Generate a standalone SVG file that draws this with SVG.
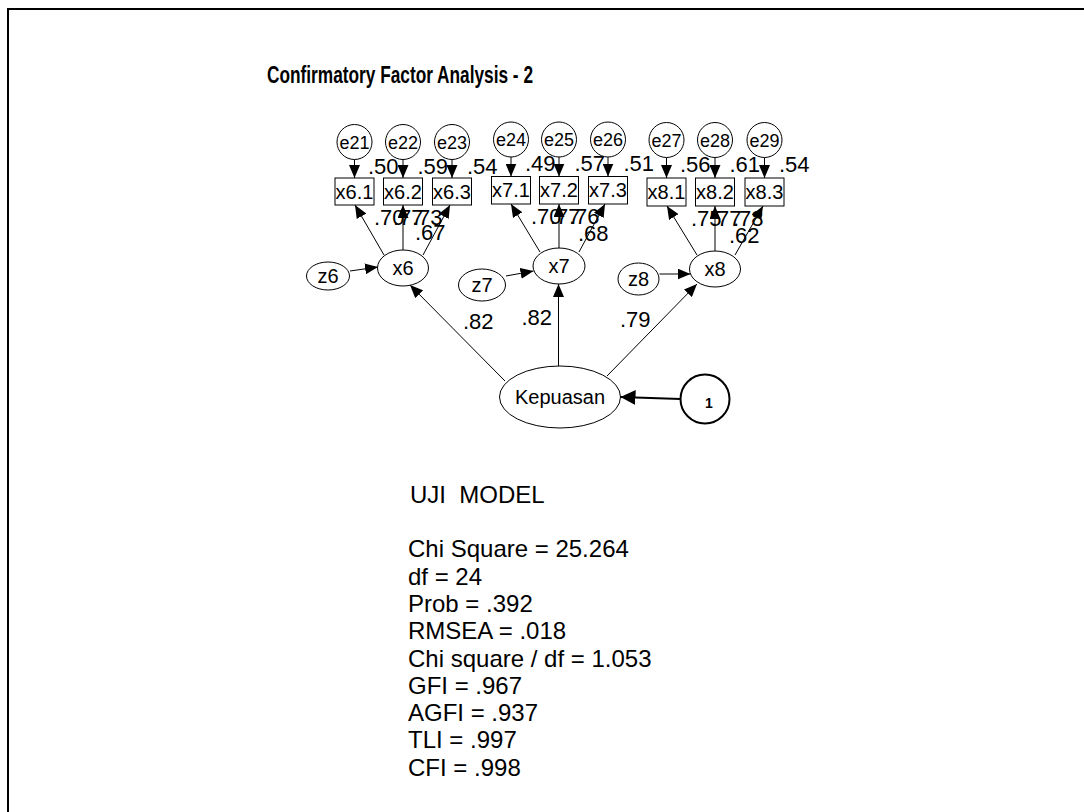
<svg xmlns="http://www.w3.org/2000/svg" width="1084" height="812" viewBox="0 0 1084 812">
<defs>
<style>
text{font-family:"Liberation Sans",Arial,sans-serif;fill:#000}
.n{fill:#fff;stroke:#000;stroke-width:1}
.c{stroke:#000;stroke-width:1;fill:none}
.cb{stroke:#000;stroke-width:2;fill:none}
.t20{font-size:20px;text-anchor:middle}
.t18{font-size:18px;text-anchor:middle}
.lb{font-size:22px}
.st{font-size:24px}
</style>
<marker id="ah" viewBox="0 0 13 11" refX="13" refY="5.5" markerWidth="13" markerHeight="11" markerUnits="userSpaceOnUse" orient="auto"><path d="M0,0L13,5.5L0,11z" fill="#000"/></marker>
<marker id="ahb" viewBox="0 0 15 15" refX="15" refY="7.5" markerWidth="15" markerHeight="15" markerUnits="userSpaceOnUse" orient="auto"><path d="M0,0L15,7.5L0,15z" fill="#000"/></marker>
</defs>
<rect x="0" y="0" width="1084" height="812" fill="#fff"/>
<rect x="8" y="9" width="1090" height="820" fill="none" stroke="#000" stroke-width="2"/>
<text x="400" y="83" font-size="23" font-weight="bold" text-anchor="middle" textLength="266" lengthAdjust="spacingAndGlyphs">Confirmatory Factor Analysis - 2</text>

<g id="connectors">
<line class="c" x1="354.5" y1="159.5" x2="354.5" y2="178" marker-end="url(#ah)"/>
<line class="c" x1="403" y1="159.5" x2="403" y2="178" marker-end="url(#ah)"/>
<line class="c" x1="452" y1="159.5" x2="452" y2="178" marker-end="url(#ah)"/>
<line class="c" x1="511" y1="157" x2="511" y2="176.5" marker-end="url(#ah)"/>
<line class="c" x1="559" y1="157" x2="559" y2="176.5" marker-end="url(#ah)"/>
<line class="c" x1="608" y1="157" x2="608" y2="176.5" marker-end="url(#ah)"/>
<line class="c" x1="666.5" y1="157.5" x2="666.5" y2="178" marker-end="url(#ah)"/>
<line class="c" x1="715" y1="157.5" x2="715" y2="178" marker-end="url(#ah)"/>
<line class="c" x1="764.5" y1="157.5" x2="764.5" y2="178" marker-end="url(#ah)"/>

<line class="c" x1="384" y1="255" x2="355" y2="205" marker-end="url(#ah)"/>
<line class="c" x1="403" y1="250" x2="403" y2="205" marker-end="url(#ah)"/>
<line class="c" x1="423" y1="255" x2="450" y2="205" marker-end="url(#ah)"/>
<line class="c" x1="540" y1="252" x2="511" y2="204" marker-end="url(#ah)"/>
<line class="c" x1="559" y1="248" x2="559" y2="204" marker-end="url(#ah)"/>
<line class="c" x1="579" y1="252" x2="605" y2="204" marker-end="url(#ah)"/>
<line class="c" x1="697" y1="255" x2="667" y2="206" marker-end="url(#ah)"/>
<line class="c" x1="715" y1="251" x2="715" y2="206" marker-end="url(#ah)"/>
<line class="c" x1="735" y1="255" x2="763" y2="206" marker-end="url(#ah)"/>

<line class="c" x1="350" y1="271" x2="378" y2="267" marker-end="url(#ah)"/>
<line class="c" x1="506" y1="276" x2="533.5" y2="271" marker-end="url(#ah)"/>
<line class="c" x1="659.5" y1="274" x2="690.5" y2="274" marker-end="url(#ah)"/>

<line class="c" x1="505" y1="381" x2="410" y2="285" marker-end="url(#ah)"/>
<line class="c" x1="558.5" y1="366" x2="558.5" y2="284" marker-end="url(#ah)"/>
<line class="c" x1="607" y1="376" x2="697" y2="284" marker-end="url(#ah)"/>
<line class="cb" x1="680.5" y1="399" x2="620.5" y2="397" marker-end="url(#ahb)"/>
</g>

<g id="e21"><circle class="n" cx="354.5" cy="142" r="17.5"/><text class="t18" x="354.5" y="148.5">e21</text></g>
<g id="e22"><circle class="n" cx="403" cy="142" r="17.5"/><text class="t18" x="403" y="148.5">e22</text></g>
<g id="e23"><circle class="n" cx="452" cy="142" r="17.5"/><text class="t18" x="452" y="148.5">e23</text></g>
<g id="e24"><circle class="n" cx="511" cy="139.5" r="17.5"/><text class="t18" x="511" y="146">e24</text></g>
<g id="e25"><circle class="n" cx="559" cy="139.5" r="17.5"/><text class="t18" x="559" y="146">e25</text></g>
<g id="e26"><circle class="n" cx="608" cy="139.5" r="17.5"/><text class="t18" x="608" y="146">e26</text></g>
<g id="e27"><circle class="n" cx="666.5" cy="140" r="17.5"/><text class="t18" x="666.5" y="146.5">e27</text></g>
<g id="e28"><circle class="n" cx="715" cy="140" r="17.5"/><text class="t18" x="715" y="146.5">e28</text></g>
<g id="e29"><circle class="n" cx="764.5" cy="140" r="17.5"/><text class="t18" x="764.5" y="146.5">e29</text></g>

<g id="x6.1"><rect class="n" x="335" y="178" width="39" height="27"/><text class="t20" x="354.5" y="198.5">x6.1</text></g>
<g id="x6.2"><rect class="n" x="383.5" y="178" width="39" height="27"/><text class="t20" x="403" y="198.5">x6.2</text></g>
<g id="x6.3"><rect class="n" x="432.5" y="178" width="39" height="27"/><text class="t20" x="452" y="198.5">x6.3</text></g>
<g id="x7.1"><rect class="n" x="491.5" y="176.5" width="39" height="27.5"/><text class="t20" x="511" y="197">x7.1</text></g>
<g id="x7.2"><rect class="n" x="539.5" y="176.5" width="39" height="27.5"/><text class="t20" x="559" y="197">x7.2</text></g>
<g id="x7.3"><rect class="n" x="588.5" y="176.5" width="39" height="27.5"/><text class="t20" x="608" y="197">x7.3</text></g>
<g id="x8.1"><rect class="n" x="647" y="178" width="39" height="28"/><text class="t20" x="666.5" y="199">x8.1</text></g>
<g id="x8.2"><rect class="n" x="695.5" y="178" width="39" height="28"/><text class="t20" x="715" y="199">x8.2</text></g>
<g id="x8.3"><rect class="n" x="745" y="178" width="39" height="28"/><text class="t20" x="764.5" y="199">x8.3</text></g>

<g id="x6"><ellipse class="n" cx="403" cy="268" rx="25.5" ry="18"/><text class="t20" x="403" y="275">x6</text></g>
<g id="x7"><ellipse class="n" cx="559" cy="266" rx="26" ry="18"/><text class="t20" x="559" y="273">x7</text></g>
<g id="x8"><ellipse class="n" cx="715" cy="269" rx="25.5" ry="18"/><text class="t20" x="715" y="276">x8</text></g>
<g id="z6"><ellipse class="n" cx="328" cy="276" rx="21.5" ry="14"/><text class="t20" x="328" y="283">z6</text></g>
<g id="z7"><ellipse class="n" cx="482" cy="285" rx="23.5" ry="16"/><text class="t20" x="482" y="292">z7</text></g>
<g id="z8"><ellipse class="n" cx="638.5" cy="279" rx="20.5" ry="16"/><text class="t20" x="638.5" y="286">z8</text></g>
<g id="Kepuasan"><ellipse class="n" cx="560" cy="397" rx="60.5" ry="31"/><text class="t20" x="560" y="404">Kepuasan</text></g>
<g id="one"><circle cx="705" cy="399" r="24.5" fill="#fff" stroke="#000" stroke-width="2"/><text x="709" y="408" font-size="14" font-weight="bold" text-anchor="middle">1</text></g>

<g id="labels" class="lb">
<text class="lb" x="368" y="173.5">.50</text>
<text class="lb" x="417.5" y="173.5">.59</text>
<text class="lb" x="467" y="173.5">.54</text>
<text class="lb" x="525" y="170.5">.49</text>
<text class="lb" x="574.5" y="170.5">.57</text>
<text class="lb" x="623.5" y="170.5">.51</text>
<text class="lb" x="680" y="172">.56</text>
<text class="lb" x="729.5" y="172">.61</text>
<text class="lb" x="779" y="172">.54</text>
<text class="lb" x="374" y="225">.70</text>
<text class="lb" x="393" y="225">.77</text>
<text class="lb" x="412" y="225">.73</text>
<text class="lb" x="415" y="240">.67</text>
<text class="lb" x="531" y="224">.70</text>
<text class="lb" x="550" y="224">.77</text>
<text class="lb" x="569" y="224">.76</text>
<text class="lb" x="578" y="241">.68</text>
<text class="lb" x="691" y="226">.75</text>
<text class="lb" x="711" y="226">.77</text>
<text class="lb" x="733" y="226">.78</text>
<text class="lb" x="729" y="243">.62</text>
<text class="lb" x="463" y="329">.82</text>
<text class="lb" x="521.5" y="325">.82</text>
<text class="lb" x="620" y="327">.79</text>
</g>

<g id="stats" class="st">
<text class="st" x="410" y="503" xml:space="preserve">UJI  MODEL</text>
<text class="st" x="408" y="557.3">Chi Square = 25.264</text>
<text class="st" x="408" y="584.6">df = 24</text>
<text class="st" x="408" y="611.9">Prob = .392</text>
<text class="st" x="408" y="639.2">RMSEA = .018</text>
<text class="st" x="408" y="666.5">Chi square / df = 1.053</text>
<text class="st" x="408" y="693.8">GFI = .967</text>
<text class="st" x="408" y="721.1">AGFI = .937</text>
<text class="st" x="408" y="748.4">TLI = .997</text>
<text class="st" x="408" y="775.7">CFI = .998</text>
</g>
</svg>
